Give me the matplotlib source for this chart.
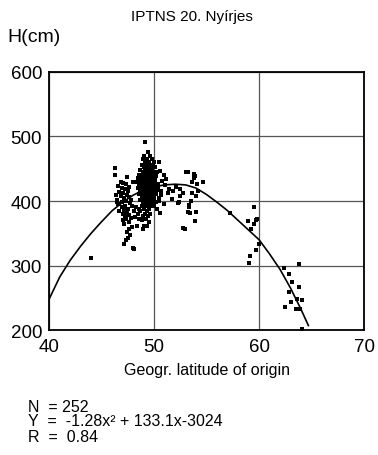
import matplotlib.pyplot as plt

plt.rcParams['font.family'] = ['Liberation Sans', 'DejaVu Sans']

# fitted curve, points
curve_x = [40, 41, 42, 43, 44, 45, 46, 47, 48, 49, 50, 51, 52, 53, 54, 55,
           56, 57, 58, 59, 60, 61, 62, 63, 64, 64.7]
curve_y = [248, 282, 308, 330, 350, 368, 385, 398, 409, 417, 422, 425, 426,
           425, 420, 410, 398, 385, 370, 355, 340, 318, 294, 265, 232, 207]

# main cluster around 49 deg
main_x = [49.1, 49.4, 49.0, 49.6, 48.9, 49.3, 49.8, 49.1, 49.5, 50.0,
          48.8, 49.2, 49.6, 49.9, 49.0, 49.4, 49.7, 50.1, 48.7, 49.1, 49.5, 49.8,
          48.9, 49.3, 49.6, 50.0, 50.3, 48.6, 49.0, 49.4, 49.7,
          48.8, 49.2, 49.5, 49.9, 50.2, 48.5, 49.0, 49.3, 49.6,
          48.7, 49.1, 49.4, 49.8, 50.1, 48.4, 48.9, 49.2, 49.5, 49.9,
          48.6, 49.0, 49.3, 49.7, 50.0, 50.4, 48.8, 49.1, 49.4, 49.8,
          48.5, 48.9, 49.2, 49.6, 50.1, 48.7, 49.0, 49.4, 49.7, 50.3,
          48.9, 49.2, 49.5, 49.9, 48.6, 49.0, 49.3, 49.7, 50.2,
          48.8, 49.1, 49.5, 49.8, 49.0, 49.3, 49.6, 50.0, 50.5,
          48.7, 49.2, 49.5, 49.9, 48.9, 49.3, 49.7, 50.2,
          49.1, 49.4, 49.8, 48.8, 49.2, 49.6, 50.0, 49.0, 49.5,
          48.7, 49.3, 49.6, 49.1, 48.9, 49.4, 49.2, 48.6, 49.5, 49.0, 49.3,
          49.2, 49.5, 48.9, 49.7, 49.0, 49.4, 48.8, 49.6]
main_y = [492, 476, 470, 470, 465, 465, 465, 460, 460, 460,
          456, 456, 456, 456, 452, 452, 452, 452, 448, 448, 448, 448,
          445, 445, 445, 445, 445, 441, 441, 441, 441,
          438, 438, 438, 438, 438, 435, 435, 435, 435,
          432, 432, 432, 432, 432, 429, 429, 429, 429, 429,
          426, 426, 426, 426, 426, 426, 423, 423, 423, 423,
          420, 420, 420, 420, 420, 417, 417, 417, 417, 417,
          414, 414, 414, 414, 411, 411, 411, 411, 411,
          408, 408, 408, 408, 405, 405, 405, 405, 405,
          402, 402, 402, 402, 399, 399, 399, 399,
          396, 396, 396, 392, 392, 392, 392, 388, 388,
          384, 384, 380, 380, 376, 376, 372, 372, 368, 362, 362,
          443, 437, 427, 419, 413, 407, 401, 394]

# cluster around 47 deg
left_x = [46.3, 46.3, 47.4, 46.8, 47.0, 47.3, 46.6, 47.6, 46.9, 47.2,
          47.5, 46.7, 47.0, 47.4, 46.8, 47.6, 47.1, 46.5, 47.3, 46.9,
          47.7, 46.6, 47.2, 46.9, 47.5, 47.1, 46.7, 47.4, 47.0, 47.6,
          47.2, 47.8, 47.3, 47.6, 47.1, 47.6, 47.4, 47.5, 47.3, 47.1,
          48.0, 46.4, 46.5, 47.9, 47.8, 48.1, 48.2, 47.9, 48.0, 48.3,
          48.5, 48.8, 48.4, 48.9, 48.1, 47.7, 48.6, 47.0]
left_y = [451, 441, 437, 430, 428, 426, 424, 422, 420, 418,
          416, 414, 412, 410, 408, 406, 404, 402, 400, 398,
          397, 395, 393, 390, 388, 386, 384, 382, 380, 378,
          375, 373, 372, 367, 364, 356, 352, 343, 340, 333,
          327, 410, 398, 392, 402, 385, 375, 360, 429, 390,
          380, 370, 362, 356, 326, 347, 388, 371]

# scatter between 50 and 55 deg
mid_x = [50.5, 50.8, 51.0, 51.4, 52.1, 52.5, 53.0, 53.2, 53.8, 53.8,
         53.9, 54.1, 54.7, 53.6, 54.0, 53.5, 53.3, 53.4, 53.9, 52.8,
         52.3, 51.7, 52.5, 51.3, 50.7, 50.5, 50.9, 52.4, 53.3, 53.2,
         54.0, 52.9, 50.6, 50.9, 51.1, 50.4, 50.7, 51.8, 52.8, 53.6,
         54.2, 50.3, 50.6]
mid_y = [460, 431, 425, 418, 421, 418, 445, 445, 442, 435,
         438, 426, 429, 430, 408, 400, 394, 381, 369, 358,
         397, 403, 408, 412, 410, 400, 396, 398, 390, 383,
         383, 357, 447, 440, 434, 420, 415, 415, 412, 412,
         415, 388, 382]

# northern provenances
north_x = [57.2, 58.9, 59.5, 59.7, 59.5, 59.2, 60.0, 59.7, 59.1, 59.0,
           62.4, 63.8, 62.9, 63.1, 63.8, 62.9, 63.6, 64.1, 63.0, 62.5,
           63.5, 63.9, 64.1, 44.0, 59.8]
north_y = [381, 369, 390, 370, 364, 356, 334, 324, 315, 304,
           296, 303, 287, 275, 266, 259, 248, 246, 243, 235,
           233, 233, 201, 312, 372]

xs = main_x + left_x + mid_x + north_x
ys = main_y + left_y + mid_y + north_y

fig = plt.figure(figsize=(3.78, 4.56), dpi=100)
ax = fig.add_axes([0.13, 0.274, 0.833, 0.566])

ax.scatter(xs, ys, s=5, marker='s', color='black', linewidths=0, zorder=3)
ax.plot(curve_x, curve_y, color='black', lw=1.2, zorder=4)

ax.set_xlim(40, 70)
ax.set_ylim(200, 600)
ax.set_xticks([40, 50, 60, 70])
ax.set_yticks([200, 300, 400, 500, 600])
ax.tick_params(length=0, labelsize=13.5, pad=5)
ax.tick_params(axis='x', pad=6)
ax.grid(True, color='#555555', lw=0.9)
for s in ax.spines.values():
    s.set_linewidth(1.3)
ax.set_xlabel('Geogr. latitude of origin', fontsize=11.5, labelpad=5)

fig.text(0.508, 1 - 17 / 456, 'IPTNS 20. Nyírjes', ha='center', va='center', fontsize=11)
fig.text(0.02, 1 - 38 / 456, 'H(cm)', ha='left', va='center', fontsize=14)

fig.text(0.074, 1 - 407 / 456, 'N  = 252', ha='left', va='center', fontsize=11.5)
fig.text(0.074, 1 - 422 / 456, 'Y  =  -1.28x² + 133.1x-3024', ha='left', va='center', fontsize=11.5)
fig.text(0.074, 1 - 438 / 456, 'R  =  0.84', ha='left', va='center', fontsize=11.5)

fig.savefig('out.png', dpi=100)
